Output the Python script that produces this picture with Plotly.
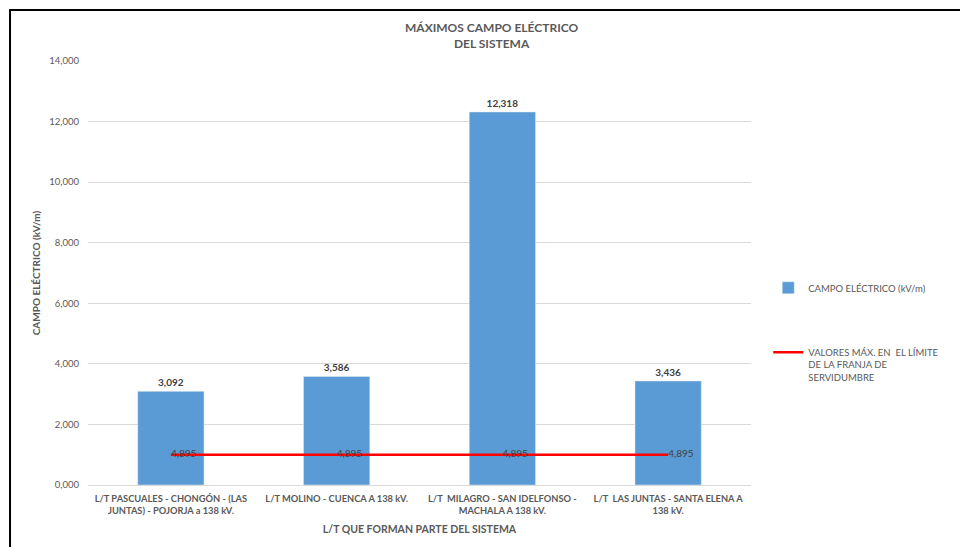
import plotly.graph_objects as go

categories = [
    "L/T PASCUALES - CHONGÓN - (LAS<br>JUNTAS) - POJORJA a 138 kV.",
    "L/T MOLINO - CUENCA A 138 kV.",
    "L/T  MILAGRO - SAN IDELFONSO -<br>MACHALA A 138 kV.",
    "L/T  LAS JUNTAS - SANTA ELENA A<br>138 kV.",
]
campo = [3092, 3586, 12318, 3436]
campo_labels = ["3,092", "3,586", "12,318", "3,436"]
limite = [4895, 4895, 4895, 4895]
limite_labels = ["4,895", "4,895", "4,895", "4,895"]
y_ticks = [0, 2000, 4000, 6000, 8000, 10000, 12000, 14000]
y_ticktext = ["0,000", "2,000", "4,000", "6,000", "8,000", "10,000", "12,000", "14,000"]

FONT = "Lato"
GREY = "#595959"
DARK = "#404040"

fig = go.Figure()
fig.add_trace(go.Bar(
    x=categories, y=campo, name="CAMPO ELÉCTRICO (kV/m)",
    marker=dict(color="#5B9BD5"), width=0.4,
    text=campo_labels, textposition="outside", cliponaxis=False,
    textfont=dict(family=FONT, size=10, color=DARK, weight="bold"),
    legend="legend",
))
fig.add_trace(go.Scatter(
    x=categories, y=limite, yaxis="y2", mode="lines+text",
    name="VALORES MÁX. EN  EL LÍMITE<br>DE LA FRANJA DE<br>SERVIDUMBRE",
    line=dict(color="#FF0000", width=2.5),
    text=limite_labels, textposition="middle right",
    textfont=dict(family=FONT, size=10, color=DARK),
    legend="legend2",
))

fig.update_layout(
    width=960, height=547,
    margin=dict(l=88, r=209, t=61, b=62, autoexpand=False),
    paper_bgcolor="white", plot_bgcolor="white",
    font=dict(family=FONT, size=10, color=GREY),
    bargap=0.6,
    showlegend=True,
    xaxis=dict(
        showgrid=False, showline=True, linecolor="#D9D9D9", linewidth=1,
        ticks="", tickfont=dict(family=FONT, size=9.3, color=GREY, weight="bold"),
        ticklabelstandoff=5,
        title=dict(text="L/T QUE FORMAN PARTE DEL SISTEMA",
                   font=dict(family=FONT, size=10.5, color=GREY, weight="bold"),
                   standoff=10),
    ),
    yaxis=dict(
        range=[0, 14000], tickvals=y_ticks, ticktext=y_ticktext,
        showgrid=True, gridcolor="#D9D9D9", gridwidth=1, zeroline=False,
        ticks="", tickfont=dict(family=FONT, size=9.5, color=GREY), ticklabelstandoff=8,
        title=dict(text="CAMPO ELÉCTRICO (kV/m)",
                   font=dict(family=FONT, size=10, color=GREY, weight="bold"),
                   standoff=6),
    ),
    yaxis2=dict(
        overlaying="y", side="right", range=[0, 4895 * 14], visible=False,
    ),
    legend=dict(x=1.026, y=0.465, xanchor="left", yanchor="middle",
                font=dict(family=FONT, size=9.5, color=GREY), itemwidth=30,
                bgcolor="rgba(0,0,0,0)"),
    legend2=dict(x=1.026, y=0.283, xanchor="left", yanchor="middle", valign="top",
                 font=dict(family=FONT, size=9.5, color=GREY), itemwidth=30,
                 bgcolor="rgba(0,0,0,0)"),
    annotations=[dict(
        text="MÁXIMOS CAMPO ELÉCTRICO<br>DEL SISTEMA", xref="paper", yref="paper",
        x=0.609, y=1.018, xanchor="center", yanchor="bottom", showarrow=False,
        font=dict(family=FONT, size=12, color=GREY, weight="bold"),
    )],
    shapes=[
        dict(type="line", xref="paper", yref="paper", x0=-0.1176, x1=-0.1176,
             y0=-0.2, y1=1.122, line=dict(color="black", width=2)),
        dict(type="line", xref="paper", yref="paper", x0=-0.1176, x1=1.4,
             y0=1.120, y1=1.120, line=dict(color="black", width=2)),
    ],
)

fig.write_html("out.html")
